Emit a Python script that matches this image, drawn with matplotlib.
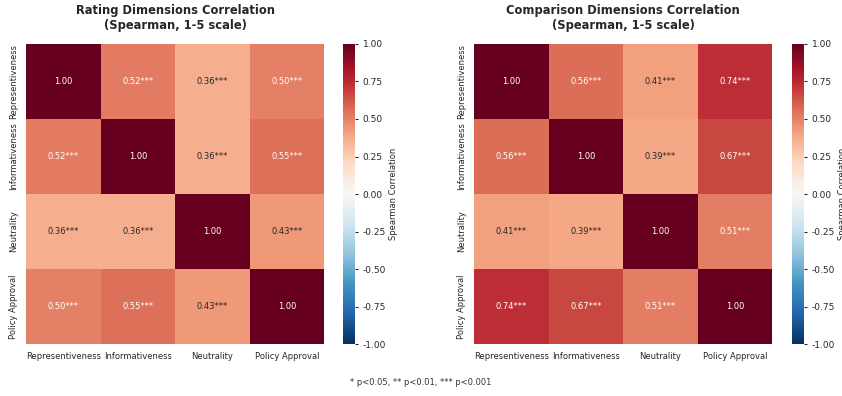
import numpy as np
import matplotlib
matplotlib.use("Agg")
import matplotlib.pyplot as plt
import seaborn as sns

dims = ["Representiveness", "Informativeness", "Neutrality", "Policy Approval"]

# upper-triangle correlations: R-I, R-N, R-P, I-N, I-P, N-P
rating_pairs = [0.52, 0.36, 0.50, 0.36, 0.55, 0.43]
comparison_pairs = [0.56, 0.41, 0.74, 0.39, 0.67, 0.51]
stars = "***"

titles = ["Rating Dimensions Correlation\n(Spearman, 1-5 scale)",
          "Comparison Dimensions Correlation\n(Spearman, 1-5 scale)"]


def build_matrix(pairs):
    n = len(dims)
    m = np.eye(n)
    k = 0
    for i in range(n):
        for j in range(i + 1, n):
            m[i, j] = m[j, i] = pairs[k]
            k += 1
    return m


def build_annot(m):
    n = len(dims)
    out = np.empty((n, n), dtype=object)
    for i in range(n):
        for j in range(n):
            out[i, j] = "1.00" if i == j else f"{m[i, j]:.2f}{stars}"
    return out


sns.set_style("white")
fig = plt.figure(figsize=(8.42, 3.96), dpi=100)

# (heatmap left, colorbar left) in figure fractions
positions = [(0.0309, 0.4074), (0.563, 0.9406)]
for k, (pairs, title) in enumerate(zip([rating_pairs, comparison_pairs], titles)):
    hx, cx = positions[k]
    ax = fig.add_axes([hx, 0.131, 0.354, 0.758])
    cax = fig.add_axes([cx, 0.131, 0.0143, 0.758])
    m = build_matrix(pairs)
    sns.heatmap(m, ax=ax, cbar_ax=cax, cmap="RdBu_r", vmin=-1, vmax=1, center=0,
                annot=build_annot(m), fmt="", annot_kws={"fontsize": 6},
                xticklabels=dims, yticklabels=dims, square=False,
                cbar_kws={"ticks": np.arange(-1, 1.01, 0.25)})
    ax.set_title(title, fontsize=8.3, fontweight="bold", pad=10.5)
    ax.tick_params(axis="both", labelsize=6, length=2, color="#cccccc")
    ax.set_xticklabels(dims, rotation=0)
    ax.set_yticklabels(dims, rotation=90, va="center")
    cax.tick_params(labelsize=6.5, length=2)
    cax.yaxis.set_major_formatter(matplotlib.ticker.FormatStrFormatter("%.2f"))
    cax.set_ylabel("Spearman Correlation", fontsize=6, labelpad=2)

fig.text(0.5, 0.033, "* p<0.05, ** p<0.01, *** p<0.001", ha="center", va="center", fontsize=6, color="#333333")

fig.savefig("out.png", dpi=100)
